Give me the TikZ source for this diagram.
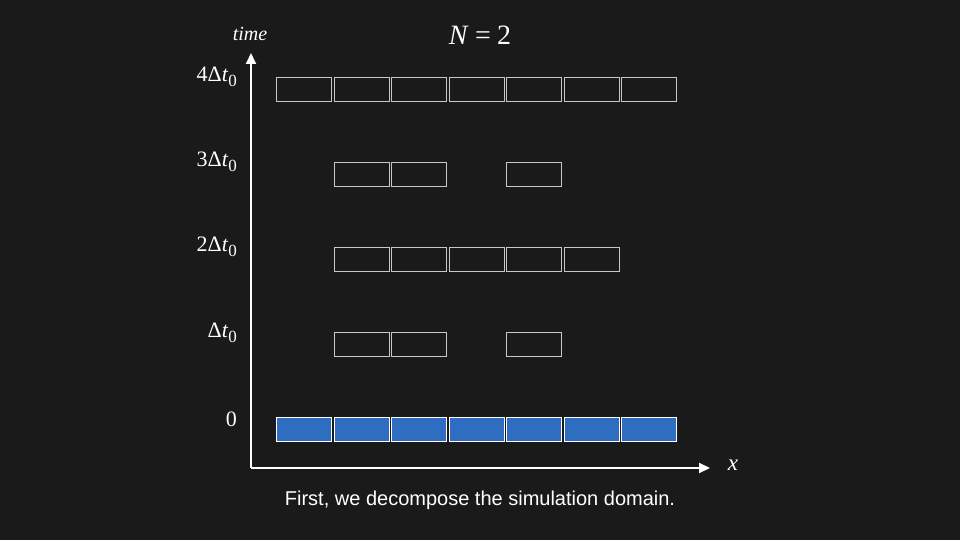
\documentclass[tikz,border=0pt]{standalone}
\usepackage{fontspec}
\newfontfamily\capfont{Liberation Sans}
\newfontfamily\lsf{Liberation Serif}
\usetikzlibrary{arrows.meta}
\definecolor{bg}{HTML}{1A1A1A}
\definecolor{cellline}{HTML}{C8C8C8}
\definecolor{cellblue}{HTML}{2E6DBF}
\newcommand{\lowsub}[1]{\raisebox{-0.5ex}{\fontsize{17}{17}\selectfont #1}}
\begin{document}
\begin{tikzpicture}[x=1pt,y=-1pt,
  cell/.style={draw=cellline, line width=1pt, minimum width=55pt, minimum height=24pt, inner sep=0pt},
  bluecell/.style={cell, draw=white, fill=cellblue},
  axis/.style={white, line width=2pt, -{Triangle[length=11pt,width=10pt]}},
  lab/.style={text=white, font=\lsf\fontsize{22}{24}\selectfont, anchor=east, inner sep=0pt}]
\useasboundingbox[fill=bg] (0,0) rectangle (960,540);
% axes
\coordinate (O) at (251,468);
\coordinate (T) at (251,53);
\coordinate (X) at (710,468);
\draw[axis] (O) -- (T);
\draw[axis] (O) -- (X);
\node[text=white, font=\lsf\itshape\fontsize{23}{25}\selectfont] (xl) at (733,465) {x};
\node[text=white, font=\lsf\itshape\fontsize{20}{22}\selectfont] (tl) at (250,34) {time};
\node[text=white, font=\lsf\fontsize{28}{30}\selectfont] (nl) at (480,35) {\textit{N}\hspace{0.22em}=\hspace{0.22em}2};
% row labels
\node[lab] (l4) at (237,77) {4Δ\textit{t}\lowsub{0}};
\node[lab] (l3) at (237,162) {3Δ\textit{t}\lowsub{0}};
\node[lab] (l2) at (237,247) {2Δ\textit{t}\lowsub{0}};
\node[lab] (l1) at (237,333) {Δ\textit{t}\lowsub{0}};
\node[lab] (l0) at (237,419) {0};
% cells
\foreach \i in {0,...,6} {
  \node[bluecell] (r0c\i) at ({304+57.5*\i},429) {};
  \node[cell] (r4c\i) at ({304+57.5*\i},90) {};
}
\foreach \i in {1,2,4} {
  \node[cell] (r1c\i) at ({304+57.5*\i},344) {};
  \node[cell] (r3c\i) at ({304+57.5*\i},174.5) {};
}
\foreach \i in {1,...,5} {
  \node[cell] (r2c\i) at ({304+57.5*\i},259.5) {};
}
\node[text=white, font=\capfont\fontsize{20}{22}\selectfont] (cap) at (480,500.5) {First, we decompose the simulation domain.};
\end{tikzpicture}
\end{document}
